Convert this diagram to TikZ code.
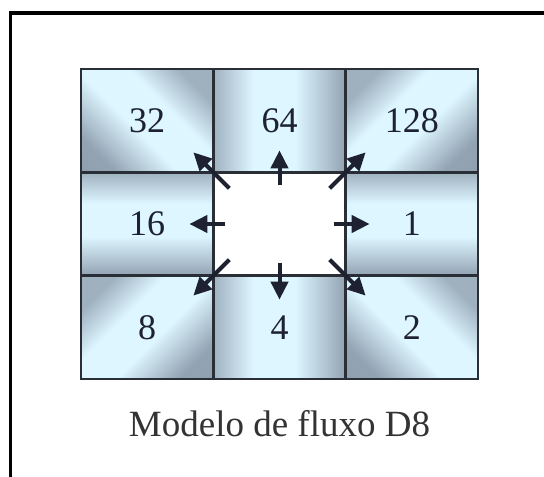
\documentclass[tikz,border=0pt]{standalone}
\usepackage{fontspec}
\setmainfont{Liberation Serif}
\usetikzlibrary{positioning,arrows.meta}
\definecolor{steel}{HTML}{8A9AAA}
\definecolor{ice}{HTML}{DDF6FF}
\definecolor{gridline}{HTML}{2A2E36}
\definecolor{ink}{HTML}{1E2230}
\pgfdeclareverticalshading{metal}{100bp}{color(0bp)=(steel); color(25bp)=(steel!90!ice); color(44bp)=(ice); color(60bp)=(ice); color(75bp)=(steel!75!ice); color(100bp)=(steel!75!ice)}

\begin{document}
\begin{tikzpicture}[
    x=1pt, y=1pt,
    node distance=0pt and 0pt,
    every node/.style={font=\fontsize{36}{40}\selectfont, text=ink},
    cell/.style={draw=gridline, line width=2.5pt, minimum width=132.3pt, minimum height=103.3pt, inner sep=0pt, outer sep=0pt},
    corner/.style={cell, shading=metal, shading angle=#1},
    tube/.style={cell, shading=metal, shading angle=90},
    band/.style={cell, shading=metal, shading angle=0},
    flow/.style={-{Triangle[length=18pt,width=17pt]}, line width=4pt, draw=ink}
]
\useasboundingbox (0,0) rectangle (544,477);

% Frame
\draw[line width=3.5pt] (10.5,0) |- (544,464);

% Nodes
\node[cell, fill=white] (centre) at (279.5,253) {};
\node[tube, above=of centre] (c64) {64};
\node[tube, below=of centre] (c4) {4};
\node[band, left=of centre] (c16) {16};
\node[band, right=of centre] (c1) {1};
\node[corner=-45, above left=of centre] (c32) {32};
\node[corner=45, above right=of centre] (c128) {128};
\node[corner=45, below left=of centre] (c8) {8};
\node[corner=-45, below right=of centre] (c2) {2};
\node[below=58pt of c4, anchor=base, font=\fontsize{37}{42}\selectfont, text=black!80] (title) {Modelo de fluxo D8};

% Arrows
\draw[flow] ([yshift=-13pt]centre.north) -- ([yshift=22pt]centre.north);
\draw[flow] ([yshift=13pt]centre.south) -- ([yshift=-24pt]centre.south);
\draw[flow] ([xshift=12pt]centre.west) -- ([xshift=-24pt]centre.west);
\draw[flow] ([xshift=-12pt]centre.east) -- ([xshift=24pt]centre.east);
\draw[flow] ([shift={(16pt,-16pt)}]centre.north west) -- ([shift={(-20pt,20pt)}]centre.north west);
\draw[flow] ([shift={(-16pt,-16pt)}]centre.north east) -- ([shift={(20pt,20pt)}]centre.north east);
\draw[flow] ([shift={(16pt,16pt)}]centre.south west) -- ([shift={(-20pt,-20pt)}]centre.south west);
\draw[flow] ([shift={(-16pt,16pt)}]centre.south east) -- ([shift={(20pt,-20pt)}]centre.south east);

\end{tikzpicture}
\end{document}
